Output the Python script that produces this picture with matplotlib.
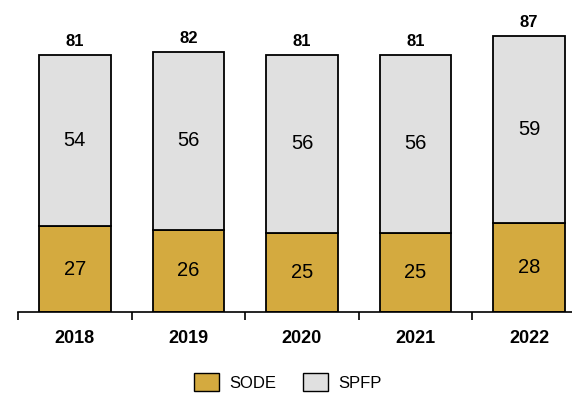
import matplotlib
matplotlib.use("Agg")
import matplotlib.pyplot as plt
from matplotlib.patches import Patch

years = ["2018", "2019", "2020", "2021", "2022"]
sode = [27, 26, 25, 25, 28]
spfp = [54, 56, 56, 56, 59]
totals = [81, 82, 81, 81, 87]

plt.rcParams['font.family'] = ['Liberation Sans', 'DejaVu Sans']
gold = '#D4AA3F'
grey = '#E0E0E0'

fig = plt.figure(figsize=(5.72, 3.93), dpi=100)
W, H = 572, 393
ax = fig.add_axes([18 / W, (H - 312) / H, (W - 18) / W, 312 / H])
step = 113.6

x = list(range(len(years)))
bw = 0.63
ax.bar(x, sode, bw, color=gold, edgecolor='black', linewidth=1.3)
ax.bar(x, spfp, bw, bottom=sode, color=grey, edgecolor='black', linewidth=1.3)

for i in x:
    ax.text(i, sode[i] / 2, str(sode[i]), ha='center', va='center', fontsize=14.5)
    ax.text(i, sode[i] + spfp[i] / 2, str(spfp[i]), ha='center', va='center', fontsize=14.5)
    ax.text(i, sode[i] + spfp[i] + 2.0, str(totals[i]), ha='center', va='bottom',
            fontsize=12, fontweight='bold')

for s in ['top', 'right', 'left']:
    ax.spines[s].set_visible(False)
ax.spines['bottom'].set_linewidth(1.2)
ax.set_yticks([])
ax.set_xticks([i - 0.5 for i in range(6)])
ax.set_xticklabels([])
ax.tick_params(axis='x', direction='out', length=6, width=1.2)
ax.set_xticks(x, minor=True)
ax.set_xticklabels(years, minor=True, fontweight='bold', fontsize=13)
ax.tick_params(axis='x', which='minor', length=0, pad=13)
ax.set_xlim(-0.5, -0.5 + (W - 18) / step)
ax.set_ylim(0, 312 / 3.17)

handles = [Patch(facecolor=gold, edgecolor='black', label='SODE'),
           Patch(facecolor=grey, edgecolor='black', label='SPFP')]
fig.legend(handles=handles, loc='center', bbox_to_anchor=(288 / W, 1 - 382 / H),
           ncol=2, frameon=False, fontsize=12, handlelength=1.5, handleheight=1.3,
           columnspacing=1.6, handletextpad=0.6)

fig.savefig("out.png", dpi=100)
